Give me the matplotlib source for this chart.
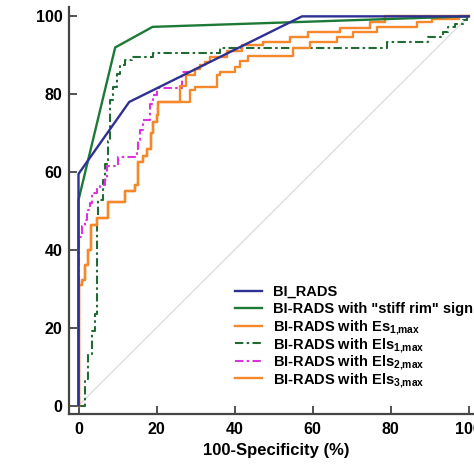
import matplotlib
matplotlib.use("Agg")
import matplotlib.pyplot as plt
from matplotlib.lines import Line2D

plt.rcParams['font.family'] = ['Liberation Sans', 'DejaVu Sans']
plt.rcParams['font.weight'] = 'bold'
plt.rcParams['mathtext.fontset'] = 'custom'
plt.rcParams['mathtext.rm'] = 'Liberation Sans:bold'
plt.rcParams['mathtext.bf'] = 'Liberation Sans:bold'

# ROC curves (100-specificity, sensitivity), in %
birads_x = [0, 0, 13, 57.3, 100]
birads_y = [0, 59.5, 78, 100, 100]

rim_x = [0, 0, 9.4, 19, 100]
rim_y = [0, 52.8, 92, 97.3, 100]

# stepped curves: each point is the top of a vertical rise (steps-post)
low_x = [0, 0, 0.8, 1.7, 2.5, 3.2, 4.7, 7.6, 11.9, 14.5, 15.3, 16.6, 17.5, 18.6, 19.2, 20, 20.5]
low_y = [0, 31, 32.3, 36.2, 40, 46.4, 48.3, 52.4, 55, 56.7, 62.6, 64, 65.8, 70, 72.9, 74.6, 78]

es1_x = low_x + [26, 27.5, 29.9, 31.2, 32.4, 33.7, 38, 42, 47.4, 54.2, 58.9, 67, 74.7, 78.6, 100]
es1_y = low_y + [82, 85, 86.6, 87.4, 88.3, 89.6, 91, 92.6, 93.5, 94.8, 96, 97.1, 98.5, 100, 100]

els3_x = low_x + [28.6, 29.9, 35.4, 36.3, 40.1, 41.4, 43.5, 55, 59.4, 66.2, 70.4, 76.5, 86.7, 90.6, 97.5, 100]
els3_y = low_y + [81, 81.9, 84.9, 85.7, 87, 88.4, 89.7, 91.8, 93.5, 94.8, 96, 97.3, 98.5, 99.4, 100, 100]

els1_x = [0, 1.7, 2.4, 3.4, 4.2, 4.7, 5.1, 6.3, 6.8, 7.6, 8.0, 8.9, 9.8, 10.6, 11.9, 13.6, 19.2,
          36.3, 79, 89.7, 93.5, 94.8, 96.5, 98.7, 99.5, 100]
els1_y = [0, 6.7, 13.3, 19.2, 23.6, 48.5, 52.8, 58, 62, 68, 78.5, 81.9, 85.3, 87.4, 88.7, 89.6, 90.7,
          91.8, 93.4, 94.7, 96, 97.3, 98.1, 99, 100, 100]

els2_x = [0, 0, 0.8, 1.7, 2.1, 2.9, 3.4, 4.7, 5.5, 6.8, 7.2, 10.2, 14.9, 15.3, 15.8, 16.6, 18.3, 19.2, 20, 26.5,
          29.9, 31.2, 32.4, 33.7, 38, 42, 47.4, 54.2, 58.9, 67, 74.7, 78.6, 100]
els2_y = [0, 43.4, 46, 47.7, 50.3, 52, 54.5, 55.8, 56.7, 57.9, 61.5, 63.9, 66, 68.2, 70.8, 73.3, 77.6, 79.7, 81.5, 85.7,
          86.6, 87.4, 88.3, 89.6, 91, 92.6, 93.5, 94.8, 96, 97.1, 98.5, 100, 100]

labels = ['BI_RADS',
          'BI-RADS with "stiff rim" sign',
          r'BI-RADS with Es$_{\mathbf{1{,}max}}$',
          r'BI-RADS with Els$_{\mathbf{1{,}max}}$',
          r'BI-RADS with Els$_{\mathbf{2{,}max}}$',
          r'BI-RADS with Els$_{\mathbf{3{,}max}}$']

blue = '#2e3192'
green = '#1c7a36'
orange = '#f5882a'
dkgreen = '#1f6b33'
magenta = '#dd33dd'
dashdot = (0, (4, 1.6, 1.2, 1.6))

W = H = 474
fig = plt.figure(figsize=(4.74, 4.74), dpi=100)
ax = fig.add_axes([0.1462, 0.1276, 0.867, 0.8576])

ax.plot([0, 100], [0, 100], color='#dcdcdc', lw=0.9, zorder=1)
ax.plot(els1_x, els1_y, drawstyle='steps-post', color=dkgreen, lw=1.5, ls=dashdot, zorder=2)
ax.plot(els2_x, els2_y, drawstyle='steps-post', color=magenta, lw=1.5, ls=dashdot, zorder=2)
ax.plot(els3_x, els3_y, drawstyle='steps-post', color=orange, lw=1.7, zorder=3)
ax.plot(es1_x, es1_y, drawstyle='steps-post', color=orange, lw=1.7, zorder=3)
ax.plot(rim_x, rim_y, color=green, lw=1.7, zorder=4)
ax.plot(birads_x, birads_y, color=blue, lw=1.7, zorder=5)

ax.set_xlim(-2.36, 103)
ax.set_ylim(-2.06, 102.4)
ax.set_xticks([0, 20, 40, 60, 80, 100])
ax.set_yticks([0, 20, 40, 60, 80, 100])
ax.tick_params(direction='in', length=6, width=1.3, color='#444444', labelsize=11.5)
ax.tick_params(axis='x', pad=6)
ax.tick_params(axis='y', pad=5)
for s in ['top', 'right']:
    ax.spines[s].set_visible(False)
for s in ['left', 'bottom']:
    ax.spines[s].set_linewidth(1.6)
    ax.spines[s].set_color('#444444')

ax.set_xlabel('100-Specificity (%)', fontsize=12, fontweight='bold')
ax.set_ylabel('Sensitivity (%)', fontsize=12, fontweight='bold')
ax.xaxis.set_label_coords(0.503, -0.0726)
ax.yaxis.set_label_coords(-0.166, 0.5)

# legend drawn by hand so the rows stay evenly spaced
styles = [(blue, '-', 1.7), (green, '-', 1.7), (orange, '-', 1.7),
          (dkgreen, dashdot, 1.5), (magenta, dashdot, 1.5), (orange, '-', 1.7)]
for i, ((c, ls, lw), lab) in enumerate(zip(styles, labels)):
    yc = 290.7 + 17.5 * i
    fig.add_artist(Line2D([235 / W, 262 / W], [1 - yc / H, 1 - yc / H], transform=fig.transFigure,
                          color=c, lw=lw, ls=ls))
    fig.text(273 / W, 1 - (yc + 5.2) / H, lab, fontsize=10.5, fontweight='bold', va='baseline', ha='left')

fig.savefig('out.png', dpi=100)
